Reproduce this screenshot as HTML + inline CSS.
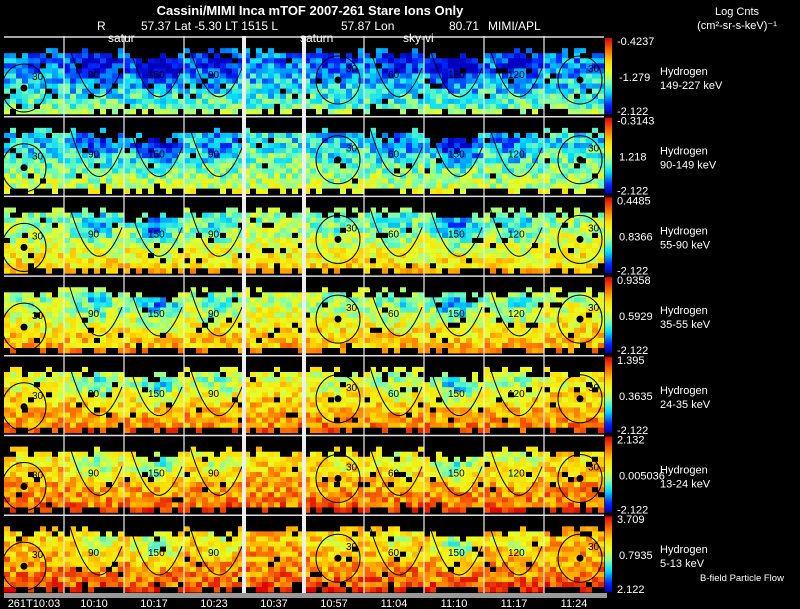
<!DOCTYPE html>
<html><head><meta charset="utf-8"><style>
html,body{margin:0;padding:0;background:#000;width:800px;height:609px;overflow:hidden}
svg text{font-family:"Liberation Sans",sans-serif;fill:#fff}
</style></head><body>
<svg id="chart" width="800" height="609" viewBox="0 0 800 609" xmlns="http://www.w3.org/2000/svg">
<rect width="800" height="609" fill="#000"/>
<g id="header" font-size="13">
<text x="310" y="15" text-anchor="middle" font-weight="bold">Cassini/MIMI Inca mTOF  2007-261    Stare    Ions Only</text>
<text x="97" y="30" font-size="12">R</text>
<text x="141" y="30" font-size="12">57.37 Lat -5.30 LT 1515 L</text>
<text x="341" y="30" font-size="12">57.87 Lon</text>
<text x="449" y="30" font-size="12">80.71</text>
<text x="488" y="30" font-size="12">MIMI/APL</text>
<text x="737" y="15" font-size="11" text-anchor="middle">Log Cnts</text>
<text x="737" y="29" font-size="11" text-anchor="middle">(cm²-sr-s-keV)⁻¹</text>
</g>
<g id="panels"></g>
<g id="overlay"></g>
<g id="labels"></g>
</svg>
<script>
// ---- data ----
const energyBands = ["149-227 keV","90-149 keV","55-90 keV","35-55 keV","24-35 keV","13-24 keV","5-13 keV"];
const cbTop = ["-0.4237","-0.3143","0.4485","0.9358","1.395","2.132","3.709"];
const cbMid = ["-1.279","1.218","0.8366","0.5929","0.3635","0.005036","0.7935"];
const cbBot = ["-2.122","-2.122","-2.122","-2.122","-2.122","-2.122","2.122"];
const timeLabels = ["261T10:03","10:10","10:17","10:23","10:37","10:57","11:04","11:10","11:17","11:24"];
// mean colour level (0..1) top and bottom of each energy band
const bandLevelTop = [0.12,0.24,0.38,0.42,0.50,0.58,0.63];
const bandLevelBot = [0.42,0.54,0.68,0.75,0.82,0.86,0.88];
// per-column depth of low-flux region and black rows at top
const colDip = [0.05,0.2,0.3,0.15,0.0,0.08,0.15,0.3,0.15,0.0];
const colBlack = [3,3,4,3,3,3,3,4,3,3];

const NS="http://www.w3.org/2000/svg";
const X0=4, COLW=60, Y0=38, ROWP=79.7, PH=76, NCX=10, NCY=15;
function xCol(c){return X0+c*COLW;}
function yRow(r){return Y0+r*ROWP;}
function hash(a,b,c){let h=(a*374761393+b*668265263+c*2147483647)|0;h=(h^(h>>>13))*1274126177|0;return ((h^(h>>>16))>>>0)/4294967296;}
const stops=[[0,[0,0,190]],[0.12,[0,40,255]],[0.28,[0,220,255]],[0.42,[130,255,170]],[0.55,[230,255,40]],[0.68,[255,220,0]],[0.82,[255,120,0]],[1,[220,0,0]]];
function cmap(v){v=Math.max(0,Math.min(1,v));for(let i=1;i<stops.length;i++){if(v<=stops[i][0]){const a=stops[i-1],b=stops[i];const t=(v-a[0])/(b[0]-a[0]);return `rgb(${a[1].map((x,k)=>Math.round(x+(b[1][k]-x)*t)).join(',')})`;}}return 'rgb(220,0,0)';}

const panels=document.getElementById('panels');
const cw=COLW/NCX, ch=PH/NCY;
for(let r=0;r<energyBands.length;r++){
 for(let c=0;c<timeLabels.length;c++){
  const g=document.createElementNS(NS,'g');
  
  
  for(let j=0;j<NCY;j++)for(let i=0;i<NCX;i++){
   const rc=document.createElementNS(NS,'rect');
   const n=hash(r*100+c,i,j);
   let col;
   const blk = j<colBlack[c]-(n>0.7?1:0)+(n<0.2?1:0) || (j===NCY-1 && n<0.45) || n>0.96;
   if(blk) col='#000'; else {
     const t=j/(NCY-1);
     const dx=(i-5)/4, dy=(j-5)/4;
     let v=bandLevelTop[r]+(bandLevelBot[r]-bandLevelTop[r])*t - colDip[c]*Math.exp(-(dx*dx+dy*dy)) + (n-0.5)*0.3;
     col=cmap(v);
   }
   rc.setAttribute('x',(xCol(c)+i*cw).toFixed(2));
   rc.setAttribute('y',(yRow(r)+j*ch).toFixed(2));
   rc.setAttribute('width',(cw+0.3).toFixed(2));
   rc.setAttribute('height',(ch+0.3).toFixed(2));
   rc.setAttribute('fill',col);
   
   
   g.appendChild(rc);
  }
  panels.appendChild(g);
 }
 const gid='cb'+r;
 const defs=document.createElementNS(NS,'linearGradient');
 defs.setAttribute('id',gid);defs.setAttribute('x1','0');defs.setAttribute('y1','1');defs.setAttribute('x2','0');defs.setAttribute('y2','0');
 stops.forEach(s=>{const st=document.createElementNS(NS,'stop');st.setAttribute('offset',s[0]);st.setAttribute('stop-color',cmap(s[0]));defs.appendChild(st);});
 panels.appendChild(defs);
 const cb=document.createElementNS(NS,'rect');
 cb.setAttribute('x',605);cb.setAttribute('y',yRow(r));cb.setAttribute('width',7);cb.setAttribute('height',PH);cb.setAttribute('fill',`url(#${gid})`);
 
 
 panels.appendChild(cb);
}

const ov=document.getElementById('overlay');
function add(parent,tag,attrs,name){const e=document.createElementNS(NS,tag);for(const k in attrs)e.setAttribute(k,attrs[k]);parent.appendChild(e);return e;}
const contourText=['','90','150','90','','','60','150','120',''];
for(let r=0;r<energyBands.length;r++){
 const y=yRow(r);
 add(ov,'line',{x1:X0,x2:X0+600,y1:y-1,y2:y-1,stroke:'#ddd','stroke-width':1.5},'panel-separator');
 for(let c=0;c<timeLabels.length;c++){
  const x=xCol(c);
  if(c===0||c===5||c===9){
   const cx=x+(c===9?36:(c===5?34:20)), cy=y+(c===0?50:42);
   add(ov,'ellipse',{cx:cx,cy:cy,rx:22,ry:24,fill:'none',stroke:'#000','stroke-width':1},'contour-30');
   add(ov,'circle',{cx:cx,cy:cy,r:3.5,fill:'#000'},'sun-direction-dot');
   const t=add(ov,'text',{x:cx+8,y:cy-8,'font-size':10,style:'fill:#000'},'contour-label');t.textContent='30';
  } else if(c!==4){
   add(ov,'path',{d:`M${x+3} ${y} Q${x+30} ${y+100} ${x+58} ${y+30}`,fill:'none',stroke:'#000','stroke-width':1},'contour-line');
   const t=add(ov,'text',{x:x+24,y:y+40,'font-size':10,style:'fill:#000'},'contour-label');t.textContent=contourText[c];
  }
 }
}
for(let c=1;c<timeLabels.length;c++){
 const w=(c===4||c===5)?4:1.2;
 add(ov,'line',{x1:xCol(c),x2:xCol(c),y1:Y0-2,y2:593,stroke:'#eee','stroke-width':w},'column-separator');
}
add(ov,'rect',{x:X0,y:593,width:603,height:5,fill:'#999'},'time-axis-bar');

const lb=document.getElementById('labels');
[['satur',108],['saturn',300],['sky-vi',403]].forEach(a=>{const t=add(lb,'text',{x:a[1],y:42,'font-size':12},'look-direction-label');t.textContent=a[0];});
for(let r=0;r<energyBands.length;r++){
 const y=yRow(r);
 let t=add(lb,'text',{x:617,y:y+7,'font-size':11},'colorbar-max-label');t.textContent=cbTop[r];
 t=add(lb,'text',{x:619,y:y+PH/2+5,'font-size':11},'colorbar-mid-label');t.textContent=cbMid[r];
 t=add(lb,'text',{x:617,y:y+PH+1,'font-size':11},'colorbar-min-label');t.textContent=cbBot[r];
 t=add(lb,'text',{x:660,y:y+PH/2-1,'font-size':11},'species-label');t.textContent='Hydrogen';
 t=add(lb,'text',{x:660,y:y+PH/2+13,'font-size':11},'energy-band-label');t.textContent=energyBands[r];
}
let bf=add(lb,'text',{x:700,y:581,'font-size':9.5},'bfield-legend');bf.textContent='B-field Particle Flow';
timeLabels.forEach((s,c)=>{const t=add(lb,'text',{x:xCol(c)+30,y:607,'font-size':11,'text-anchor':'middle'},'time-tick-label');t.textContent=s;});
</script>
</body></html>
